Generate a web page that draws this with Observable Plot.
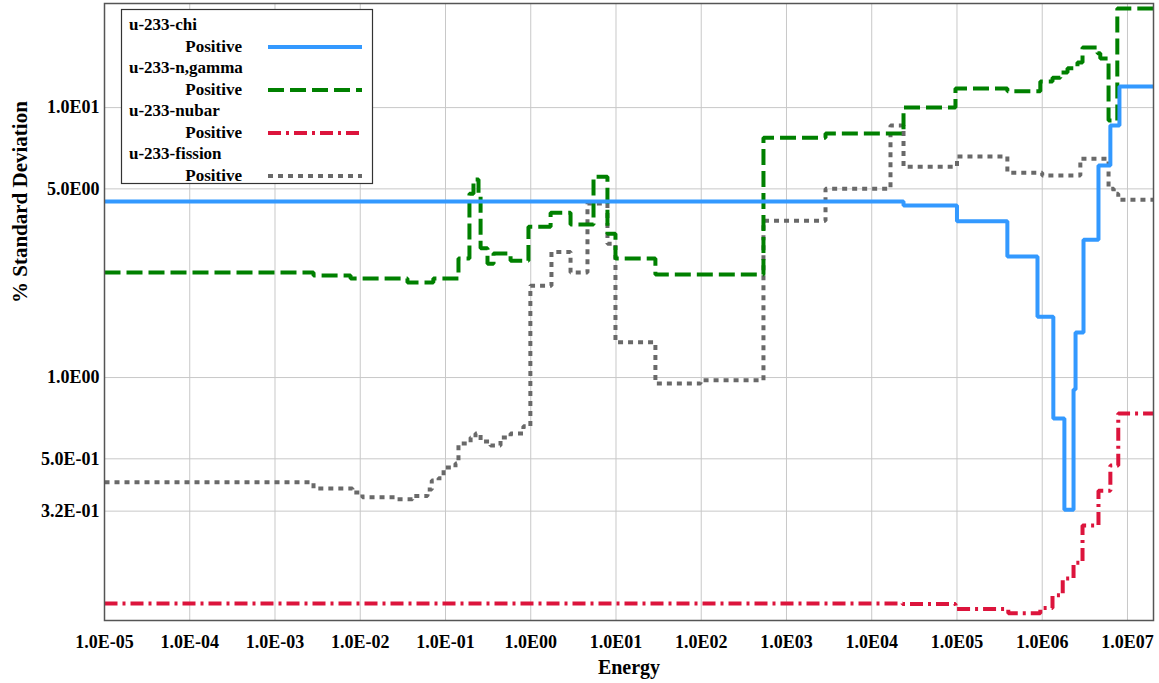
<!DOCTYPE html>
<html>
<head>
<meta charset="utf-8">
<script src="https://cdn.jsdelivr.net/npm/d3@7"></script>
<script src="https://cdn.jsdelivr.net/npm/@observablehq/plot@0.6"></script>
<style>
  html, body { margin: 0; padding: 0; background: #fff; }
</style>
</head>
<body>
<div id="chart"></div>
<script>
// ---- data ----
const seriesNames = ["u-233-chi", "u-233-n,gamma", "u-233-nubar", "u-233-fission"];
const subLabel = "Positive";

const xTicks = [1e-5, 1e-4, 1e-3, 1e-2, 1e-1, 1e0, 1e1, 1e2, 1e3, 1e4, 1e5, 1e6, 1e7];
const yTicks = [0.32, 0.5, 1, 5, 10];

const chiE = [1e-5, 2.36e4, 1e5, 3.9e5, 8.8e5, 1.35e6, 1.82e6, 2.33e6, 2.46e6, 3.05e6, 4.57e6, 6.3e6, 8.05e6, 2.02e7];
const chiV = [4.49, 4.34, 3.79, 2.81, 1.68, 0.705, 0.324, 0.903, 1.47, 3.24, 6.10, 8.58, 11.96, 11.96];

const ngE = [1e-5, 2.83e-3, 7.7e-3, 3.58e-2, 7.2e-2, 0.142, 0.191, 0.213, 0.244, 0.258, 0.311, 0.366, 0.58, 0.94, 1.71, 2.93, 5.45, 7.94, 9.86, 29.0, 537, 2.87e3, 2.36e4, 9.6e4, 3.9e5, 9.5e5, 1.32e6, 1.63e6, 1.98e6, 2.59e6, 2.97e6, 4.45e6, 4.8e6, 6.0e6, 7.6e6, 2.02e7];
const ngV = [2.45, 2.39, 2.33, 2.25, 2.33, 2.76, 4.80, 5.41, 4.80, 3.01, 2.64, 2.88, 2.71, 3.62, 4.08, 3.69, 5.55, 3.41, 2.76, 2.41, 7.74, 8.02, 10.0, 11.76, 11.5, 12.48, 12.9, 13.5, 14.0, 14.7, 16.7, 15.9, 15.2, 8.95, 23.3, 23.3];

const nuE = [1e-5, 2.3e4, 9.6e4, 4e5, 9.5e5, 1.32e6, 1.74e6, 2.33e6, 2.97e6, 4.57e6, 6.3e6, 7.8e6, 2.02e7];
const nuV = [0.1456, 0.145, 0.139, 0.134, 0.14, 0.156, 0.18, 0.206, 0.283, 0.381, 0.472, 0.736, 0.736];

const fisE = [1e-5, 2.83e-3, 8.1e-3, 1.06e-2, 2.74e-2, 4.1e-2, 6.15e-2, 6.9e-2, 8.3e-2, 9.5e-2, 0.131, 0.142, 0.197, 0.225, 0.258, 0.337, 0.442, 0.58, 0.82, 0.99, 1.75, 2.93, 4.63, 7.94, 9.86, 29, 98, 537, 2.87e3, 1.66e4, 2.36e4, 1e5, 3.9e5, 1e6, 2.8e6, 6e6, 6.9e6, 7.8e6, 2.02e7];
const fisV = [0.409, 0.388, 0.375, 0.360, 0.354, 0.364, 0.385, 0.416, 0.424, 0.464, 0.48, 0.57, 0.60, 0.62, 0.58, 0.56, 0.60, 0.62, 0.66, 2.19, 2.92, 2.45, 4.41, 3.13, 1.35, 0.95, 0.977, 3.81, 5.0, 8.58, 6.04, 6.59, 5.74, 5.6, 6.47, 5.0, 4.8, 4.56, 4.56];

// ---- styles ----
const styles = [
  {stroke: "#3399ff", dash: null, width: 4},
  {stroke: "#008000", dash: "16,6", width: 4},
  {stroke: "#dc143c", dash: "13,5,3,5", width: 4},
  {stroke: "#696969", dash: "5,5", width: 4}
];

const toRows = (E, V) => E.map((e, i) => ({e, v: V[i]}));
const rows = [toRows(chiE, chiV), toRows(ngE, ngV), toRows(nuE, nuV), toRows(fisE, fisV)];

const fmt = d => {
  const e = Math.floor(Math.log10(d) + 1e-9);
  const m = d / Math.pow(10, e);
  const es = e < 0 ? "-" + String(-e).padStart(2, "0") : String(e).padStart(2, "0");
  return m.toFixed(1) + "E" + es;
};

const lineMark = (k) => Plot.line(rows[k], {
  x: "e", y: "v", curve: "step-after",
  stroke: styles[k].stroke, strokeWidth: styles[k].width,
  strokeDasharray: styles[k].dash || undefined,
  strokeLinejoin: "miter", strokeLinecap: "butt"
});

const chart = Plot.plot({
  width: 1159, height: 683,
  marginLeft: 104, marginRight: 6, marginTop: 3, marginBottom: 63,
  style: {fontFamily: "'Liberation Serif', 'Times New Roman', serif", fontSize: "18px", fontWeight: "bold", color: "#000", background: "#fff", overflow: "visible"},
  x: {type: "log", domain: [1e-5, 2.02e7]},
  y: {type: "log", domain: [0.1259, 24.3]},
  marks: [
    Plot.gridX(xTicks, {stroke: "#c8c8c8", strokeOpacity: 1, strokeWidth: 1}),
    Plot.gridY(yTicks, {stroke: "#c8c8c8", strokeOpacity: 1, strokeWidth: 1}),
    Plot.axisX({ticks: xTicks, tickFormat: fmt, tickSize: 0, tickPadding: 15, label: null}),
    Plot.axisY({ticks: yTicks, tickFormat: fmt, tickSize: 0, tickPadding: 5, label: null}),
    lineMark(3),
    lineMark(2),
    lineMark(1),
    lineMark(0),
    Plot.frame({stroke: "#555", strokeWidth: 1.5}),
    Plot.text(["Energy"], {frameAnchor: "bottom", dy: 53, fontSize: 20, fontWeight: "bold"}),
    Plot.text(["% Standard Deviation"], {frameAnchor: "left", dx: -84, dy: -9, rotate: -90, fontSize: 21, fontWeight: "bold"})
  ]
});

document.getElementById("chart").appendChild(chart);

// ---- legend ----
const svg = d3.select(chart);
const lg = svg.append("g").attr("font-family", "'Liberation Serif', 'Times New Roman', serif")
  .attr("font-weight", "bold").attr("font-size", 17).attr("fill", "#000");
lg.append("rect").attr("x", 121.5).attr("y", 9.5).attr("width", 251).attr("height", 174)
  .attr("fill", "#fff").attr("stroke", "#333").attr("stroke-width", 1.2);
seriesNames.forEach((name, i) => {
  const y0 = 30 + i * 43;
  lg.append("text").attr("x", 129).attr("y", y0).attr("text-anchor", "start").text(name);
  lg.append("text").attr("x", 242).attr("y", y0 + 22).attr("text-anchor", "end").text(subLabel);
  const ln = lg.append("line").attr("x1", 268).attr("x2", 362)
    .attr("y1", y0 + 17).attr("y2", y0 + 17)
    .attr("stroke", styles[i].stroke).attr("stroke-width", styles[i].width);
  if (styles[i].dash) ln.attr("stroke-dasharray", styles[i].dash);
});
</script>
</body>
</html>
